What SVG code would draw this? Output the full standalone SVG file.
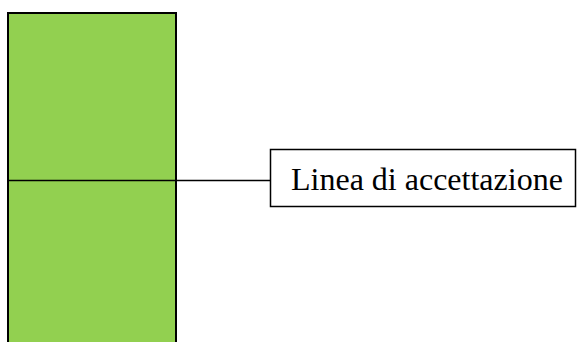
<svg xmlns="http://www.w3.org/2000/svg" width="577" height="342" viewBox="0 0 577 342">
  <style>
    .bar { fill: #92d050; stroke: #000; stroke-width: 2; }
    .box { fill: #fff; stroke: #000; stroke-width: 1.5; }
    .wire { stroke: #000; stroke-width: 1.5; fill: none; }
    .label { font-family: "Liberation Serif", "Times New Roman", serif; font-size: 32px; fill: #000; }
  </style>
  <g id="bar">
    <rect class="bar" x="8" y="13" width="168" height="340"/>
  </g>
  <g id="connectors">
    <line class="wire" x1="8" y1="180.5" x2="270.5" y2="180.5"/>
  </g>
  <g id="label-box">
    <rect class="box" x="270.5" y="149.5" width="305" height="57"/>
    <text class="label" x="291" y="189.5">Linea di accettazione</text>
  </g>
</svg>
